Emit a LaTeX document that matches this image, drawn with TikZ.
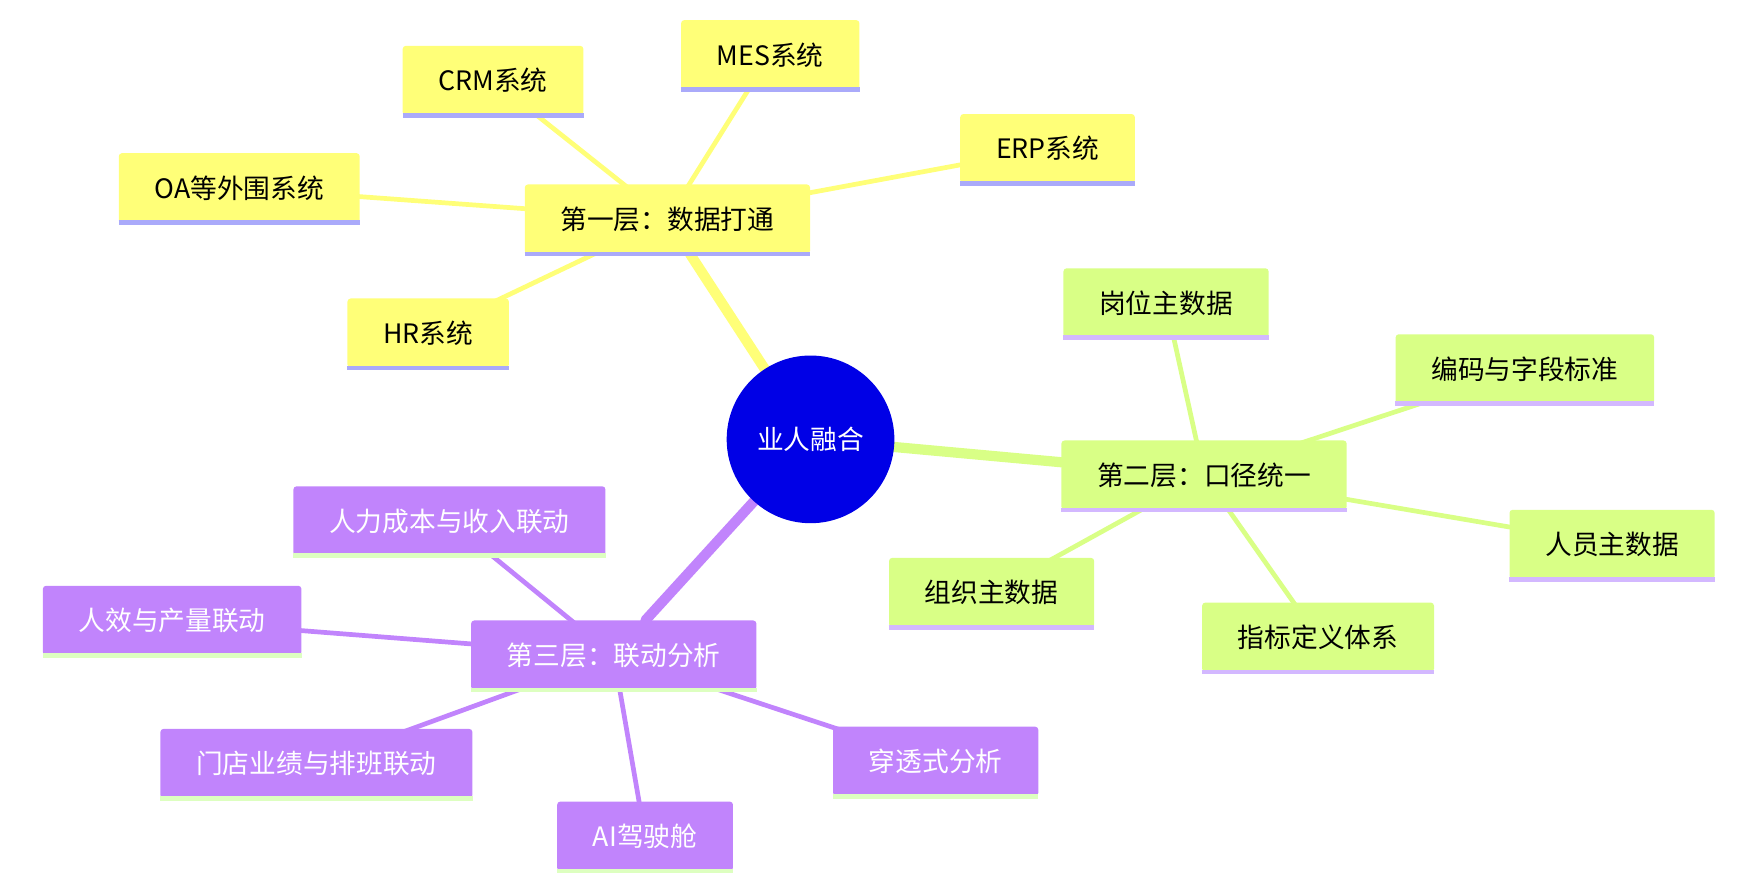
\documentclass[tikz,border=0pt]{standalone}
\usepackage{fontspec}
\setmainfont{Noto Sans CJK SC}
\usetikzlibrary{positioning,backgrounds}
\definecolor{yel}{HTML}{FFFF78}
\definecolor{yelline}{HTML}{AAAAFA}
\definecolor{grn}{HTML}{D9FF86}
\definecolor{grnline}{HTML}{D3B8FF}
\definecolor{pur}{HTML}{C184FC}
\definecolor{purline}{HTML}{DDFFC0}
\definecolor{rootblue}{HTML}{0000E6}
\tikzset{
  topic/.style = {rectangle, rounded corners=4pt, minimum height=3.1cm, inner xsep=1.6cm,
                  font=\fontsize{34}{40}\selectfont,
                  append after command={\pgfextra{\let\mynode\tikzlastnode}
                     (\mynode.south west) edge[draw=#1, line width=6pt, -] (\mynode.south east)}},
  ytopic/.style = {topic=yelline, fill=yel, text=black},
  gtopic/.style = {topic=grnline, fill=grn, text=black},
  ptopic/.style = {topic=purline, fill=pur, text=white},
  link/.style = {line width=#1, line cap=round},
}
\begin{document}
\begin{tikzpicture}[x=0.05cm, y=-0.05cm]
\useasboundingbox (0,0) rectangle (1560,792);
% centre
\node (root) [circle, fill=rootblue, minimum size=7.5cm, text=white, font=\fontsize{34}{40}\selectfont] at (725,393) {业人融合};
% level nodes
\node (l1) [ytopic] at (597,196) {第一层：数据打通};
\node (l2) [gtopic] at (1077,425) {第二层：口径统一};
\node (l3) [ptopic] at (549,586) {第三层：联动分析};
% first layer
\node (crm) [ytopic] at (441,72) {CRM系统};
\node (mes) [ytopic] at (689,49) {MES系统};
\node (erp) [ytopic] at (937,133) {ERP系统};
\node (oa)  [ytopic] at (214,168) {OA等外围系统};
\node (hr)  [ytopic] at (383,298) {HR系统};
% second layer
\node (post) [gtopic] at (1043,271) {岗位主数据};
\node (code) [gtopic] at (1364,330) {编码与字段标准};
\node (staff)[gtopic] at (1442,487) {人员主数据};
\node (org)  [gtopic] at (887,530) {组织主数据};
\node (kpi)  [gtopic] at (1179,570) {指标定义体系};
% third layer
\node (cost) [ptopic] at (402,466) {人力成本与收入联动};
\node (eff)  [ptopic] at (154,555) {人效与产量联动};
\node (shop) [ptopic] at (283,683) {门店业绩与排班联动};
\node (ai)   [ptopic] at (577,748) {AI驾驶舱};
\node (pen)  [ptopic] at (837,681) {穿透式分析};
% connectors
\begin{scope}[on background layer]
\draw [link=13pt, yel] (root) -- (l1);
\draw [link=13pt, grn] (root) -- (l2);
\draw [link=13pt, pur] (root) -- (l3);
\foreach \n in {crm,mes,erp,oa,hr} \draw [link=6pt, yel] (l1.center) -- (\n.center);
\foreach \n in {post,code,staff,org,kpi} \draw [link=6pt, grn] (l2.center) -- (\n.center);
\foreach \n in {cost,eff,shop,ai,pen} \draw [link=6pt, pur] (l3.center) -- (\n.center);
\end{scope}
\end{tikzpicture}
\end{document}
